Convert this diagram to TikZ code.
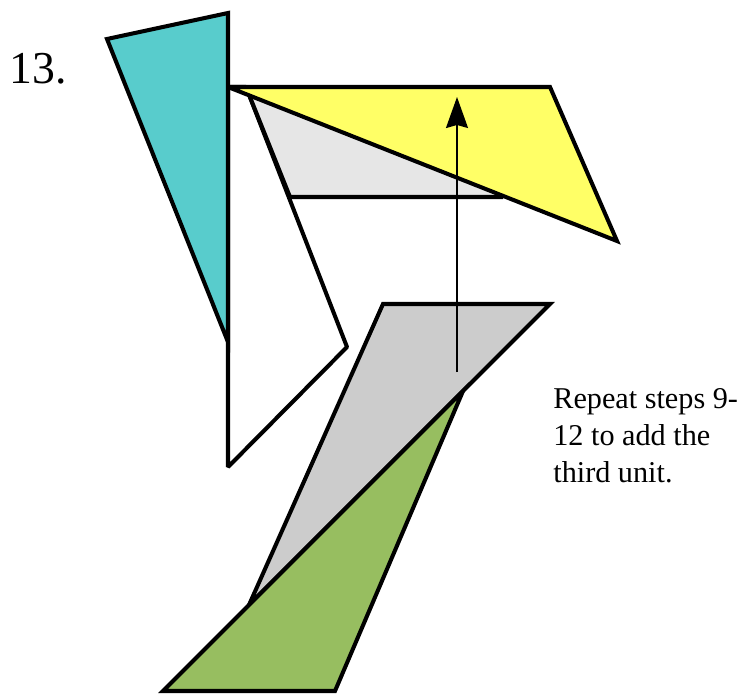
\documentclass[tikz,border=0pt]{standalone}
\usepackage{fontspec}
\setmainfont{Liberation Serif}
\usetikzlibrary{
    arrows.meta,
    positioning
}
\definecolor{PieceTeal}{RGB}{88,204,204}
\definecolor{PieceYellow}{RGB}{255,255,102}
\definecolor{PieceLight}{RGB}{230,230,230}
\definecolor{PieceGray}{RGB}{204,204,204}
\definecolor{PieceGreen}{RGB}{151,190,96}
\tikzset{
  piece/.style  = {draw=black, line width=2.3pt, line join=miter},
  hidden/.style = {piece, line join=bevel},
  moveup/.style = {-{Stealth[length=6.2mm, width=4.4mm, inset=0.6mm]}, line width=0.9pt, black}
}

\begin{document}
\begin{tikzpicture}[
    x=0.02cm, y=-0.02cm,
    steplabel/.style={font=\fontsize{26}{26}\selectfont, inner sep=0pt},
    notetext/.style={font=\fontsize{17.2}{21}\selectfont, align=left, inner sep=0pt}
  ]
    \useasboundingbox (0,0) rectangle (750,693);

    \node[steplabel, anchor=base west] (stepno) at (9,83) {13.};

    \draw[hidden, fill=white] (246,87) -- (347,347) -- (228,467) -- (228,87) -- cycle;
    \draw[hidden, fill=PieceLight] (246,87) -- (290,197) -- (503,197) -- (440,150) -- cycle;
    \draw[piece, fill=PieceTeal] (107,39) -- (228,13) -- (228,342) -- cycle;
    \draw[piece, miter limit=4, fill=PieceYellow] (228,87) -- (550,87) -- (617,241) -- cycle;

    \draw[piece, fill=PieceGray] (383,304) -- (550,304) -- (249,605) -- cycle;
    \draw[piece, fill=PieceGreen] (163,691) -- (463,391) -- (335,691) -- cycle;

    \coordinate (arrowfoot) at (457,372);
    \coordinate (arrowtip) at (457,97);
    \draw[moveup] (arrowfoot) -- (arrowtip);

    \node[notetext, anchor=base west] (note) at (553,482) {Repeat steps 9-\\12 to add the\\third unit.};
\end{tikzpicture}
\end{document}
